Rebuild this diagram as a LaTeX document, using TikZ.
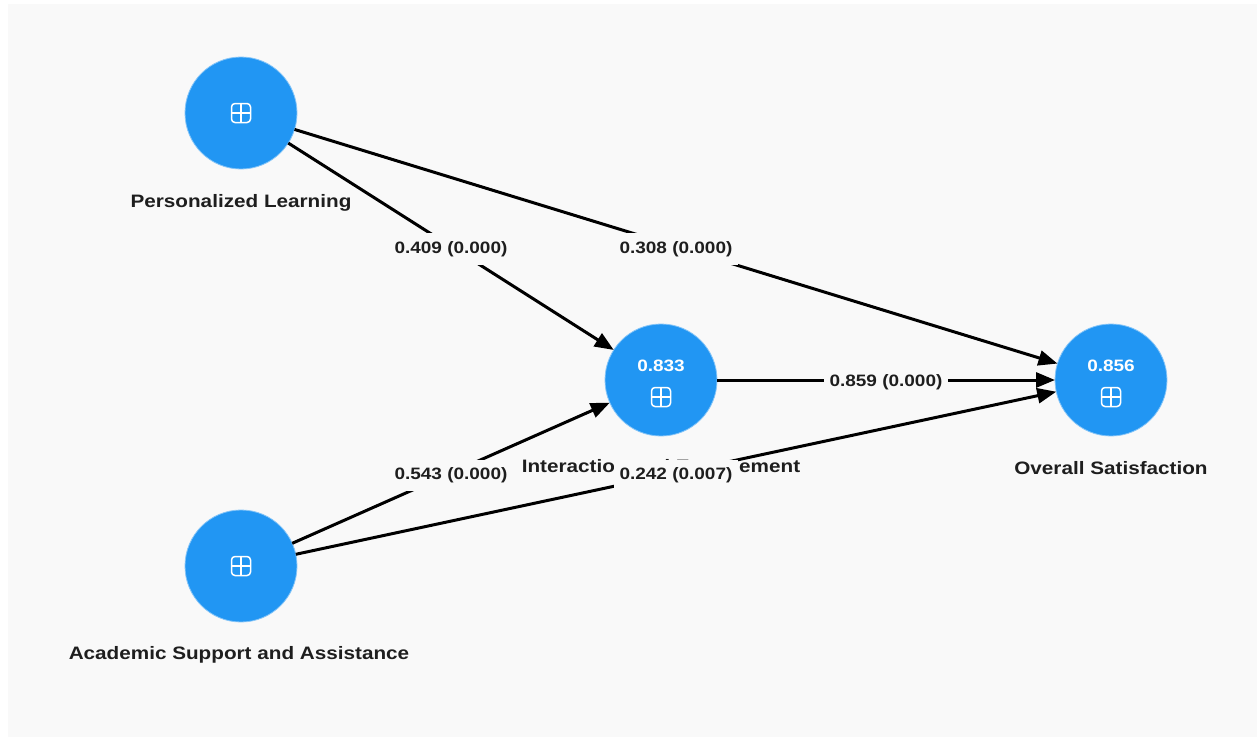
\documentclass[tikz,border=0pt]{standalone}
\usepackage{fontspec}
\setmainfont{Liberation Sans}[FakeStretch=1.15]
\usetikzlibrary{arrows.meta}
\definecolor{bg}{HTML}{F9F9F9}
\definecolor{nodeblue}{RGB}{33,150,243}
\definecolor{txt}{HTML}{1E1E1E}
\tikzset{
  circ/.style={circle, fill=nodeblue, draw=nodeblue!55!white, line width=0.8pt, minimum size=112pt, inner sep=0pt, outer sep=0pt},
  icon/.style={draw=white, line width=1.5pt, rounded corners=3.5pt, minimum size=19pt, inner sep=0pt,
    path picture={\draw[white, line width=1.1pt] (path picture bounding box.north) -- (path picture bounding box.south)
                   (path picture bounding box.west) -- (path picture bounding box.east);}},
  val/.style={text=white, font=\fontsize{16.5}{18}\selectfont\bfseries, inner sep=0pt},
  nlab/.style={text=txt, font=\fontsize{18}{20}\selectfont\bfseries, inner sep=1pt},
  elab/.style={fill=bg, text=txt, font=\fontsize{16.5}{18}\selectfont\bfseries, inner xsep=6pt, inner ysep=8pt, yshift=-2.5pt},
  conn/.style={line width=3pt, black, -{Triangle[length=19pt,width=15pt]}},
}
\begin{document}
\begin{tikzpicture}[x=1pt,y=-1pt]
\useasboundingbox (0,0) rectangle (1259,739);
\fill[white] (0,0) rectangle (1259,739);
\fill[bg] (8,4) rectangle (1257,737);

% nodes
\node[circ] (pl) at (241,113) {};
\node[circ] (as) at (241,566) {};
\node[circ] (ie) at (661,380) {};
\node[circ] (os) at (1111,380) {};

\node[icon] (plicon) at (241,113) {};
\node[icon] (asicon) at (241,566) {};
\node[icon] (ieicon) at (661,397) {};
\node[icon] (osicon) at (1111,397) {};
\node[val] (ieval) at (661,366) {0.833};
\node[val] (osval) at (1111,366) {0.856};

% node labels
\node[nlab] (pllab) at (241,203) {Personalized Learning};
\node[nlab] (aslab) at (239,655) {Academic Support and Assistance};
\node[nlab] (ielab) at (661,468) {Interaction and Engagement};
\node[nlab] (oslab) at (1111,468) {Overall Satisfaction};

% connectors
\draw[conn] (pl) -- node[elab] {0.409 (0.000)} (ie);
\draw[conn] (pl) -- node[elab] {0.308 (0.000)} (os);
\draw[conn] (as) -- node[elab] {0.543 (0.000)} (ie);
\draw[conn] (as) -- node[elab] {0.242 (0.007)} (os);
\draw[conn] (ie) -- node[elab] {0.859 (0.000)} (os);
\end{tikzpicture}
\end{document}
